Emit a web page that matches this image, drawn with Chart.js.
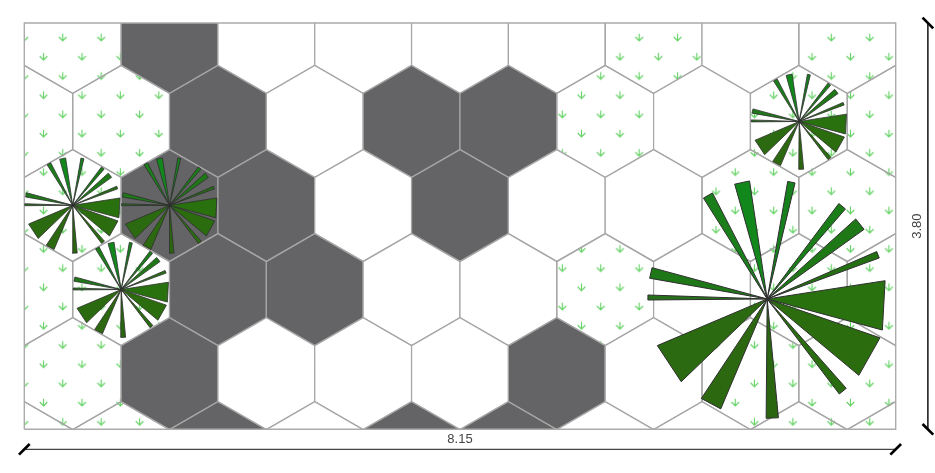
<!DOCTYPE html>
<html>
<head>
<meta charset="utf-8">
<style>html,body{margin:0;padding:0;background:#fff}#w{width:935px;height:473px}canvas{display:block}</style>
<script src="https://cdn.jsdelivr.net/npm/chart.js@4"></script>
</head>
<body>
<div id="w"><canvas id="c" width="935" height="473"></canvas></div>
<script>
// Map extent
const mapWidth = 8.15;
const mapHeight = 3.80;
const widthLabel = "8.15";
const heightLabel = "3.80";

// Hexagon grid (a = marsh symbol, G = grey, w = white)
const hexRowY = [3.665, 2.879, 2.093, 1.307, 0.521, -0.265];
const hexRowCells = ["aGwwwwawa", "aaGwGGawaa", "aGGwGwwaa", "aaGGwwawaa", "aGwwwGwaa", "aaGwGGwwaa"];
const hexColsA = [0.4528, 1.3583, 2.2638, 3.1693, 4.0748, 4.9803, 5.8858, 6.7913, 7.6968];
const hexColsB = [0, 0.9055, 1.811, 2.7165, 3.622, 4.5275, 5.433, 6.3385, 7.244, 8.1495];
const hexRadius = 0.5228;

// Marsh symbol lattice
const markStep = 0.1797;
const markColor = "#66d266";

// Wind rose petals: compass bearings (degrees)
const petalFrom = [327.7, 344.2, 9.9, 36.9, 47.9, 66.6, 81.2, 109.0, 138.5, 174.6, 202.9, 226.1, 269.5, 280.0];
const petalTo   = [332.7, 351.5, 13.5, 41.0, 54.3, 69.9, 105.1, 129.8, 142.8, 180.5, 213.5, 247.0, 271.9, 285.2];
const petalColors = ["#1a7f1a", "#12881c", "#16801c", "#1a7d18", "#1f7816", "#236f12", "#29700f", "#2a6c0e", "#2a6c10", "#2a6610", "#2c6810", "#2b6a10", "#27701a", "#1f7818"];

// Wind roses
const roseX = [6.948, 0.4528, 1.3583, 0.9055, 7.247];
const roseY = [1.219, 2.095, 2.095, 1.307, 2.879];
const roseR = [1.116, 0.448, 0.448, 0.448, 0.448];
const roseLine = [1, 0.8, 0.8, 0.8, 0.8];

const HEX_LINE = "#a6a6a6", HEX_GREY = "#646466", PETAL_LINE = "#2e2e2e";

function poly(points, o) {
  return Object.assign({
    type: "scatter", data: points, showLine: true, tension: 0, pointRadius: 0,
    borderWidth: 1, borderColor: HEX_LINE, fill: false, borderJoinStyle: "miter"
  }, o);
}

const datasets = [];

// marsh symbols, below the opaque cells
const markCanvas = document.createElement("canvas");
markCanvas.width = 11; markCanvas.height = 11;
(function () {
  const g = markCanvas.getContext("2d");
  g.strokeStyle = markColor; g.lineWidth = 1.15;
  g.beginPath();
  g.moveTo(5.5, 1.7); g.lineTo(5.5, 9.0);
  g.moveTo(1.7, 5.0); g.lineTo(5.5, 9.0); g.lineTo(9.3, 5.0);
  g.stroke();
})();
const markPts = [];
for (let k = 0; k < 22; k++) {
  const y = hexRowY[0] - k * markStep;
  for (let j = 0; j < 24; j++) {
    markPts.push({ x: (k % 2 ? markStep : 0) + j * 2 * markStep, y });
  }
}
datasets.push({ type: "scatter", data: markPts, showLine: false, pointStyle: markCanvas, pointRadius: 5.5 });

// hexagons
hexRowY.forEach((y, r) => {
  const cols = r % 2 ? hexColsB : hexColsA;
  cols.forEach((x, c) => {
    const t = hexRowCells[r][c];
    const h = hexRadius, w = hexRadius * Math.sqrt(3) / 2;
    const pts = [[0, h], [w, h / 2], [w, -h / 2], [0, -h], [-w, -h / 2], [-w, h / 2], [0, h]]
      .map(p => ({ x: x + p[0], y: y + p[1] }));
    datasets.push(poly(pts, {
      borderWidth: 1.25,
      fill: t === "a" ? false : "shape",
      backgroundColor: t === "G" ? HEX_GREY : "#ffffff"
    }));
  });
});

// frame
datasets.push(poly([{ x: 0, y: 0 }, { x: mapWidth, y: 0 }, { x: mapWidth, y: mapHeight }, { x: 0, y: mapHeight }, { x: 0, y: 0 }],
  { borderColor: "#ababab", borderWidth: 1.4, clip: false }));

// wind roses
roseX.forEach((cx, i) => {
  const cy = roseY[i], R = roseR[i];
  petalFrom.forEach((a, p) => {
    const a0 = a * Math.PI / 180, a1 = petalTo[p] * Math.PI / 180;
    const pts = [
      { x: cx, y: cy },
      { x: cx + R * Math.sin(a0), y: cy + R * Math.cos(a0) },
      { x: cx + R * Math.sin(a1), y: cy + R * Math.cos(a1) },
      { x: cx, y: cy }
    ];
    datasets.push(poly(pts, { borderColor: PETAL_LINE, borderWidth: roseLine[i], fill: "shape", backgroundColor: petalColors[p], clip: false }));
  });
});

// dimension lines
const dimY = -0.187, dimX = 8.451, tickHalf = 0.05;
datasets.push(poly([{ x: 0, y: dimY }, { x: mapWidth, y: dimY }], { borderColor: "#444444", borderWidth: 1.3, clip: false }));
datasets.push(poly([{ x: dimX, y: 0 }, { x: dimX, y: mapHeight }], { borderColor: "#111111", borderWidth: 1.5, clip: false }));
[0, mapWidth].forEach(x => datasets.push(poly([{ x: x - tickHalf, y: dimY - tickHalf }, { x: x + tickHalf, y: dimY + tickHalf }], { borderColor: "#000", borderWidth: 2.7, clip: false })));
[0, mapHeight].forEach(y => datasets.push(poly([{ x: dimX - tickHalf, y: y + tickHalf }, { x: dimX + tickHalf, y: y - tickHalf }], { borderColor: "#000", borderWidth: 2.7, clip: false })));

// first listed is drawn first
datasets.forEach((d, i) => { d.order = datasets.length - i; });

const dimLabels = {
  id: "dimLabels",
  afterDraw(chart) {
    const { ctx, scales: { x, y } } = chart;
    ctx.save();
    ctx.fillStyle = "#444444";
    ctx.font = "13px 'Liberation Sans', Arial, sans-serif";
    ctx.textAlign = "center"; ctx.textBaseline = "middle";
    ctx.fillText(widthLabel, x.getPixelForValue(mapWidth / 2), y.getPixelForValue(-0.091));
    ctx.translate(x.getPixelForValue(8.356), y.getPixelForValue(mapHeight / 2));
    ctx.rotate(-Math.PI / 2);
    ctx.fillText(heightLabel, 0, 0);
    ctx.restore();
  }
};

new Chart(document.getElementById("c"), {
  data: { datasets },
  plugins: [dimLabels],
  options: {
    responsive: false, animation: false, events: [],
    layout: { padding: { left: 24.3, right: 39.3, top: 23, bottom: 43.7 } },
    scales: {
      x: { type: "linear", display: false, min: 0, max: mapWidth },
      y: { type: "linear", display: false, min: 0, max: mapHeight }
    },
    plugins: { legend: { display: false }, tooltip: { enabled: false } }
  }
});
</script>
</body>
</html>
